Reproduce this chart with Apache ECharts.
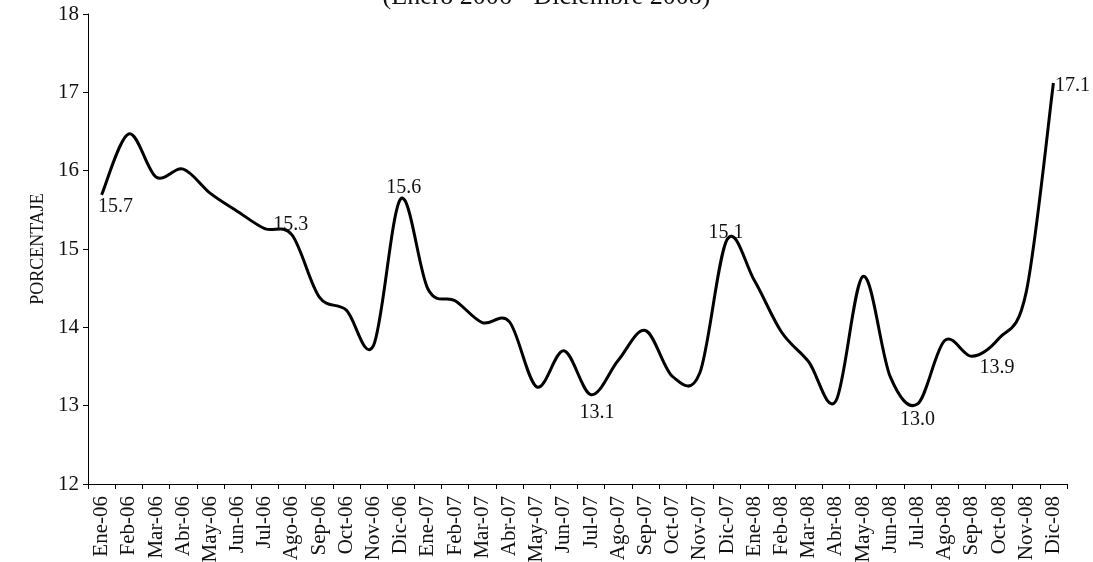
<!DOCTYPE html>
<html>
<head>
<meta charset="utf-8">
<script src="https://cdn.jsdelivr.net/npm/echarts@6/dist/echarts.min.js"></script>
<style>
html,body{margin:0;padding:0;background:#fff;}
#chart{width:1093px;height:562px;}
</style>
</head>
<body>
<div id="chart"></div>
<script>
const titleText = "(Enero 2006 - Diciembre 2008)";
const yAxisName = "PORCENTAJE";
const categories = ["Ene-06","Feb-06","Mar-06","Abr-06","May-06","Jun-06","Jul-06","Ago-06","Sep-06","Oct-06","Nov-06","Dic-06",
  "Ene-07","Feb-07","Mar-07","Abr-07","May-07","Jun-07","Jul-07","Ago-07","Sep-07","Oct-07","Nov-07","Dic-07",
  "Ene-08","Feb-08","Mar-08","Abr-08","May-08","Jun-08","Jul-08","Ago-08","Sep-08","Oct-08","Nov-08","Dic-08"];
const values = [15.69,16.47,15.92,16.02,15.71,15.48,15.26,15.18,14.39,14.22,13.77,15.64,
  14.49,14.34,14.06,14.07,13.24,13.70,13.14,13.58,13.96,13.37,13.42,15.12,
  14.60,13.94,13.56,13.06,14.65,13.37,13.02,13.83,13.63,13.86,14.45,17.12];
const labeledIdx = [0,6,11,18,23,30,33,35];
const yTicks = [12,13,14,15,16,17,18];

// label placement (styling only): offset of label centre from the point, px
const labelOffsets = {0:[14,12],6:[26,-4],11:[3,-11],18:[6,18],23:[-1,-7],30:[0,16],33:[-2,29],35:[19,3]};

const FONT = "Liberation Serif";

function renderItem(params, api){
  const i = params.dataIndex;
  const children = [];
  if(i === 0){
    // smooth curve (Catmull-Rom style, like a spreadsheet "smoothed line") through all points
    const n = values.length;
    const pts = [];
    for(let k=0;k<n;k++){ pts.push(api.coord([k, values[k]])); }
    let d = 'M' + pts[0][0] + ' ' + pts[0][1];
    const t = 1/6;
    for(let k=0;k<n-1;k++){
      const p0 = pts[Math.max(k-1,0)], p1 = pts[k], p2 = pts[k+1], p3 = pts[Math.min(k+2,n-1)];
      const c1x = p1[0] + (p2[0]-p0[0])*t, c1y = p1[1] + (p2[1]-p0[1])*t;
      const c2x = p2[0] - (p3[0]-p1[0])*t, c2y = p2[1] - (p3[1]-p1[1])*t;
      d += ' C' + c1x + ' ' + c1y + ' ' + c2x + ' ' + c2y + ' ' + p2[0] + ' ' + p2[1];
    }
    children.push({type:'path', shape:{pathData:d},
      style:{stroke:'#000', lineWidth:3, fill:null, lineJoin:'round', lineCap:'butt'}});
  }
  if(labeledIdx.indexOf(i) >= 0){
    const p = api.coord([i, api.value(1)]);
    const off = labelOffsets[i] || [0,0];
    children.push({type:'text', x:p[0]+off[0], y:p[1]+off[1],
      style:{text:api.value(1).toFixed(1), fontFamily:FONT, fontSize:20, fill:'#111',
        align:'center', verticalAlign:'middle'}});
  }
  return {type:'group', children:children};
}

const chart = echarts.init(document.getElementById('chart'));
chart.setOption({
  animation:false,
  backgroundColor:'#fff',
  title:{text:titleText,left:'center',top:-21,
    textStyle:{fontFamily:FONT,fontSize:26,fontWeight:'normal',color:'#111'}},
  grid:{left:88,right:26,top:14,bottom:78,containLabel:false,outerBoundsMode:'none'},
  xAxis:{type:'category',data:categories,boundaryGap:true,
    axisLine:{lineStyle:{color:'#000',width:1}},
    axisTick:{show:true,length:5,lineStyle:{color:'#000'}},
    axisLabel:{interval:0,rotate:90,margin:12,fontFamily:FONT,fontSize:21,color:'#111'},
    splitLine:{show:false}},
  yAxis:{type:'value',min:yTicks[0],max:yTicks[yTicks.length-1],interval:1,
    name:yAxisName,nameLocation:'middle',nameGap:38,
    nameTextStyle:{fontFamily:FONT,fontSize:18,color:'#111'},
    axisLine:{show:true,lineStyle:{color:'#000',width:1}},
    axisTick:{show:true,length:5,lineStyle:{color:'#000'}},
    axisLabel:{margin:9,fontFamily:FONT,fontSize:21,color:'#111'},
    splitLine:{show:false}},
  series:[{type:'custom', renderItem:renderItem,
    data: values.map((v,i)=>[i,v]),
    encode:{x:0,y:1}, clip:false}]
});
</script>
</body>
</html>
